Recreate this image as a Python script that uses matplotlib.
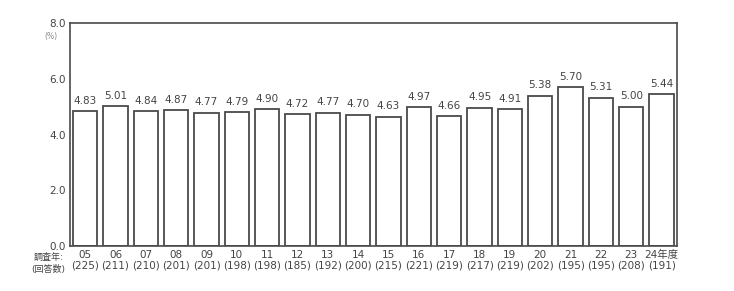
import matplotlib.pyplot as plt

plt.rcParams['font.family'] = ['DejaVu Sans', 'Noto Sans CJK JP']

# 調査年と回答数
years = ["05", "06", "07", "08", "09", "10", "11", "12", "13", "14",
         "15", "16", "17", "18", "19", "20", "21", "22", "23", "24年度"]
counts = [225, 211, 210, 201, 201, 198, 198, 185, 192, 200,
          215, 221, 219, 217, 219, 202, 195, 195, 208, 191]
rates = [4.83, 5.01, 4.84, 4.87, 4.77, 4.79, 4.90, 4.72, 4.77, 4.70,
         4.63, 4.97, 4.66, 4.95, 4.91, 5.38, 5.70, 5.31, 5.00, 5.44]
yticks = [0.0, 2.0, 4.0, 6.0, 8.0]

txt = '#444444'
edge = '#4a4a4a'

fig = plt.figure(figsize=(7.34, 2.91), dpi=100)
ax = fig.add_axes([0.0954, 0.1546, 0.8266, 0.7664])

x = range(len(rates))
ax.bar(x, rates, width=0.8, color='white', edgecolor=edge, linewidth=1.3)
for i, v in zip(x, rates):
    ax.text(i, v + 0.2, f"{v:.2f}", ha='center', va='bottom', fontsize=7.5, color=txt)

ax.set_xlim(-0.5, len(rates) - 0.5)
ax.set_ylim(0, 8)
ax.set_yticks(yticks)
ax.set_yticklabels([f"{t:.1f}" for t in yticks], fontsize=7.5, color=txt)
ax.set_xticks(list(x))
ax.set_xticklabels([f"{y}\n({c})" for y, c in zip(years, counts)],
                   fontsize=7.5, color=txt, linespacing=1.05)
ax.tick_params(axis='both', length=0, pad=3)
for s in ax.spines.values():
    s.set_color(edge)
    s.set_linewidth(1.2)

fig.text(0.07, 0.873, "(%)", fontsize=5.5, color='#888888', ha='center', va='center')
fig.text(0.087, 0.115, "調査年:", fontsize=6.5, color=txt, ha='right', va='center')
fig.text(0.089, 0.075, "(回答数)", fontsize=6.5, color=txt, ha='right', va='center')

fig.savefig("out.png", dpi=100)
